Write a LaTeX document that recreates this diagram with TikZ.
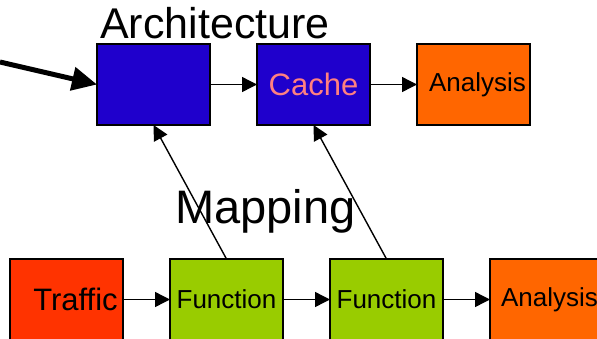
\documentclass[tikz,border=0pt]{standalone}
\usepackage{fontspec}
\setmainfont{Liberation Sans}
\usetikzlibrary{positioning, arrows.meta}
\definecolor{archBlue}{HTML}{1F00CC}
\definecolor{cacheText}{HTML}{FF8080}
\definecolor{anaOrange}{HTML}{FF6600}
\definecolor{trafRed}{HTML}{FF3300}
\definecolor{funcGreen}{HTML}{99CC00}
\tikzset{
	block/.style={draw=black, line width=1.2pt, minimum width=113pt, minimum height=81pt, inner sep=0pt, outer sep=0pt},
	archBlock/.style={block, fill=archBlue, text=cacheText, font=\fontsize{31}{36}\selectfont},
	anaBlock/.style={block, fill=anaOrange, font=\fontsize{26}{30}\selectfont},
	trafBlock/.style={block, fill=trafRed, font=\fontsize{31}{36}\selectfont},
	funcBlock/.style={block, fill=funcGreen, font=\fontsize{26}{30}\selectfont},
	flow/.style={line width=1.4pt, -{Triangle[length=15pt,width=15pt]}},
	bigFlow/.style={line width=5pt, -{Triangle[length=25pt,width=23pt]}},
	heading/.style={inner sep=0pt, anchor=base west}
}

\begin{document}
\begin{tikzpicture}[x=1pt, y=-1pt]
\useasboundingbox (0,0) rectangle (597,338);
% architecture row
\node [archBlock] (arch) at (153.5,84.5) {};
\node [archBlock, right=47pt of arch] (cache) {Cache};
\node [anaBlock, right=47pt of cache] (anaTop) {\hspace{8pt}Analysis};
% mapping row
\node [trafBlock] (traffic) at (66.5,299.5) {\hspace{18pt}Traffic};
\node [funcBlock, right=47pt of traffic] (funcA) {Function};
\node [funcBlock, right=47pt of funcA] (funcB) {Function};
\node [anaBlock, right=47pt of funcB] (anaBot) {\hspace{6pt}Analysis};
% headings
\node [heading, font=\fontsize{43}{48}\selectfont] (archTitle) at (100,38) {Architecture};
\node [heading, font=\fontsize{47}{54}\selectfont] (mapTitle) at (175,223) {Mapping};
% connectors
\coordinate (src) at (0,62);
\draw [bigFlow] (src) -- (arch.west);
\draw [flow] (arch) -- (cache);
\draw [flow] (cache) -- (anaTop);
\draw [flow] (traffic) -- (funcA);
\draw [flow] (funcA) -- (funcB);
\draw [flow] (funcB) -- (anaBot);
\draw [flow] (funcA.north) -- (arch.south);
\draw [flow] (funcB.north) -- (cache.south);
\end{tikzpicture}
\end{document}
